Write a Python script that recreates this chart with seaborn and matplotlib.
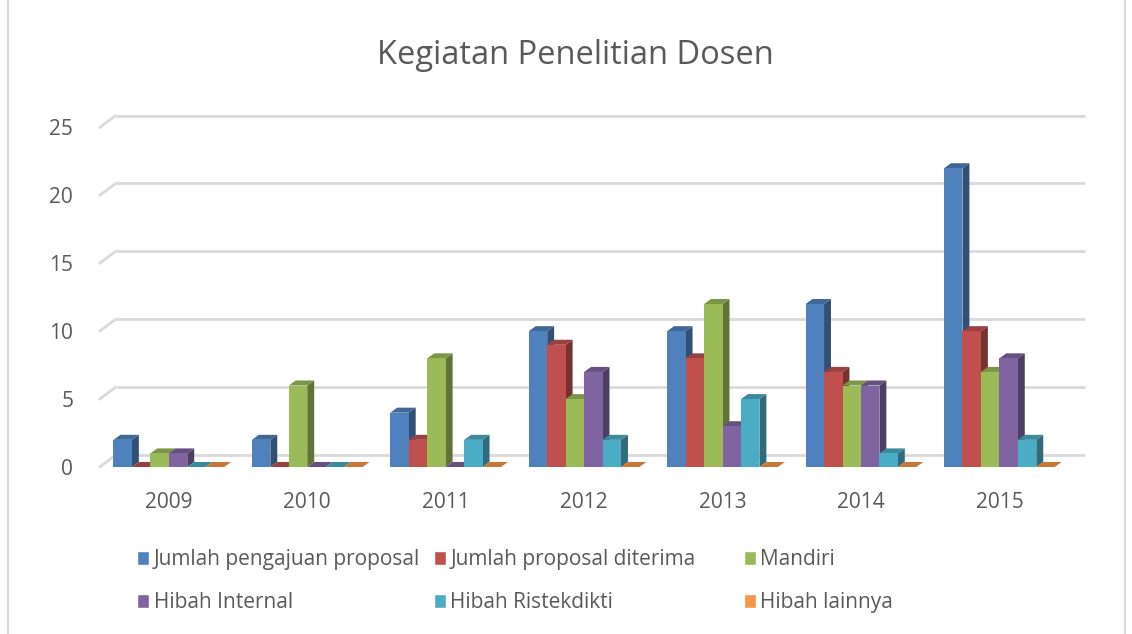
import pandas as pd
import numpy as np
import matplotlib
matplotlib.use("Agg")
import matplotlib.pyplot as plt
import seaborn as sns
from matplotlib.patches import Polygon, Rectangle
from matplotlib.colors import to_rgb

tahun = ["2009", "2010", "2011", "2012", "2013", "2014", "2015"]
kategori = ["Jumlah pengajuan proposal", "Jumlah proposal diterima", "Mandiri",
            "Hibah Internal", "Hibah Ristekdikti", "Hibah lainnya"]
pengajuan = [2, 2, 4, 10, 10, 12, 22]
diterima = [0, 0, 2, 9, 8, 7, 10]
mandiri = [1, 6, 8, 5, 12, 6, 7]
hibah_internal = [1, 0, 0, 7, 3, 6, 8]
hibah_ristek = [0, 0, 2, 2, 5, 1, 2]
hibah_lain = [0, 0, 0, 0, 0, 0, 0]
warna = ["#4f81bd", "#c0504d", "#9bbb59", "#8064a2", "#4bacc6", "#f79646"]

nilai = [pengajuan, diterima, mandiri, hibah_internal, hibah_ristek, hibah_lain]
rows = []
for k, v in zip(kategori, nilai):
    for t, n in zip(tahun, v):
        rows.append({"Tahun": t, "Kategori": k, "Jumlah": n})
df = pd.DataFrame(rows)

sns.set_theme(style="white")
plt.rcParams["font.family"] = ["Open Sans", "DejaVu Sans"]
teks = "#595959"

fig = plt.figure(figsize=(11.32, 6.34), dpi=100)
ax = fig.add_axes([0.088, 0.2634, 0.856, 0.5355])

sns.barplot(data=df, x="Tahun", y="Jumlah", hue="Kategori", palette=warna,
            width=0.8, saturation=1, ax=ax, zorder=3)
ax.set_xlim(-0.5, 6.5)
ax.set_ylim(0, 25)

# back gridlines (pseudo 3d)
gdx, gdy = 0.1156, 0.88
for t in range(0, 26, 5):
    ax.plot([-0.5 + gdx, 6.5 + gdx], [t + gdy, t + gdy], color="#d9d9d9",
            lw=2, zorder=1, clip_on=False, solid_capstyle="butt")
    ax.plot([-0.5, -0.5 + gdx], [t, t + gdy], color="#d9d9d9",
            lw=2, zorder=1, clip_on=False)

# 3d side + top faces
dx, dy = 0.05, 0.37
bars = []
for ci, cont in enumerate(ax.containers):
    for rect in cont:
        bars.append((rect.get_x(), rect, ci))
bars.sort(key=lambda b: b[0])
for k, (x0, rect, ci) in enumerate(bars):
    w = rect.get_width()
    h = rect.get_height()
    base = np.array(to_rgb(warna[ci]))
    z = 3 + k * 0.001
    rect.set_zorder(z)
    rect.set_edgecolor("none")
    side = Polygon([(x0 + w, 0), (x0 + w, h), (x0 + w + dx, h + dy), (x0 + w + dx, dy)],
                   closed=True, facecolor=base * 0.62, edgecolor="none",
                   zorder=z - 0.0005, clip_on=False)
    top = Polygon([(x0, h), (x0 + w, h), (x0 + w + dx, h + dy), (x0 + dx, h + dy)],
                  closed=True, facecolor=base * 0.8, edgecolor="none",
                  zorder=z - 0.0004, clip_on=False)
    ax.add_patch(side)
    ax.add_patch(top)

ax.set_yticks(range(0, 26, 5))
ax.set_xlabel("")
ax.set_ylabel("")
ax.tick_params(axis="y", length=0, pad=19, labelsize=15, labelcolor=teks)
ax.tick_params(axis="x", length=0, pad=18, labelsize=15, labelcolor=teks)
for s in ax.spines.values():
    s.set_visible(False)
ax.grid(False)

h, l = ax.get_legend_handles_labels()
ax.legend_.remove()
# legend as three columns placed like the original
kolom_x = [0.121, 0.383, 0.657]
for j, xk in enumerate(kolom_x):
    idx = [j, j + 3]
    lg = fig.legend([h[i] for i in idx], [l[i] for i in idx], ncol=1, loc="center left",
                    bbox_to_anchor=(xk, 0.083), frameon=False, fontsize=15,
                    labelcolor=teks, handlelength=0.6, handleheight=0.6,
                    handletextpad=0.2, labelspacing=1.05, borderpad=0, borderaxespad=0)

fig.text(0.508, 0.912, "Kegiatan Penelitian Dosen", ha="center", va="center",
         fontsize=23.5, color=teks)

fig.patches.append(Rectangle((0.007, -0.01), 0.987, 1.02, transform=fig.transFigure,
                             fill=False, edgecolor="#d9d9d9", lw=1.5))

fig.savefig("out.png", dpi=100)
